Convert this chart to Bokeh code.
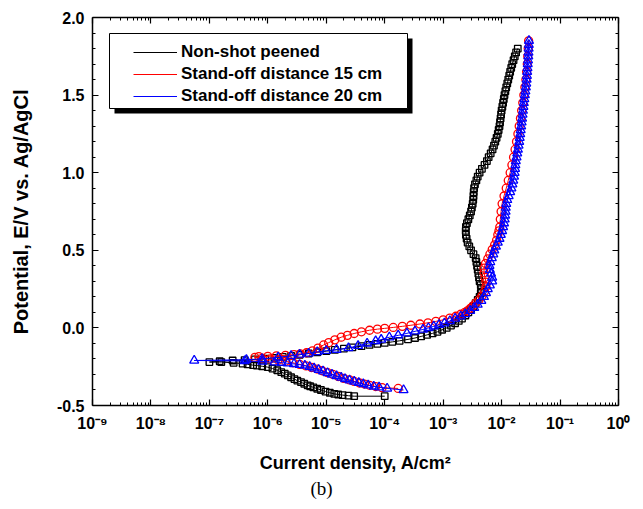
from bokeh.plotting import figure
from bokeh.models import (FixedTicker, NumeralTickFormatter, CustomJSTickFormatter, LinearAxis,
                          LogAxis, Legend, LegendItem, BoxAnnotation, ColumnDataSource, Range1d)
from bokeh.embed import file_html
from bokeh.resources import INLINE

# ---------------- data ----------------
x_ticks = [1e-9, 1e-8, 1e-7, 1e-6, 1e-5, 1e-4, 1e-3, 1e-2, 1e-1, 1e0]
x_tick_labels = ["10\u207b\u2079", "10\u207b\u2078", "10\u207b\u2077", "10\u207b\u2076",
                 "10\u207b\u2075", "10\u207b\u2074", "10\u207b\u00b3", "10\u207b\u00b2",
                 "10\u207b\u00b9", "10\u2070"]
y_ticks = [-0.5, 0.0, 0.5, 1.0, 1.5, 2.0]

series_names = ["Non-shot peened", "Stand-off distance 15 cm", "Stand-off distance 20 cm"]

# Non-shot peened (current density A/cm2, potential V)
np_i = [1.0e-4, 3.0e-5, 2.4e-5, 1.9e-5, 1.6e-5, 1.37e-5, 1.15e-5, 9.7e-6, 8.1e-6, 7.0e-6,
        6.0e-6, 5.3e-6, 4.8e-6, 4.2e-6, 3.7e-6, 3.2e-6, 2.85e-6, 2.5e-6, 2.2e-6, 1.95e-6,
        1.7e-6, 1.45e-6, 1.2e-6, 1.0e-6, 8.0e-7, 6.5e-7, 5.6e-7, 4.5e-7, 3.7e-7, 2.6e-7,
        1.6e-7, 1.0e-7,
        1.5e-7, 2.5e-7, 4.0e-7, 6.0e-7, 9.0e-7, 1.3e-6, 1.8e-6, 2.5e-6, 3.5e-6, 5.0e-6,
        7.0e-6, 1.0e-5, 1.4e-5, 2.0e-5, 2.8e-5, 4.0e-5, 5.5e-5, 7.5e-5, 1.0e-4, 1.35e-4,
        1.8e-4, 2.5e-4, 3.3e-4, 4.2e-4, 5.3e-4, 6.6e-4, 8.0e-4, 9.6e-4, 1.15e-3, 1.36e-3,
        1.6e-3, 1.85e-3, 2.1e-3, 2.4e-3, 2.7e-3, 3.0e-3, 3.3e-3, 3.6e-3, 3.9e-3, 4.2e-3,
        4.4e-3,
        4.5e-3, 4.4e-3, 4.2e-3, 4.1e-3, 4.0e-3, 3.9e-3, 3.8e-3, 3.7e-3, 3.6e-3, 3.3e-3,
        3.0e-3, 2.8e-3, 2.62e-3, 2.52e-3, 2.45e-3, 2.43e-3, 2.45e-3, 2.55e-3, 2.7e-3, 2.85e-3,
        3.0e-3, 3.1e-3, 3.2e-3, 3.27e-3, 3.3e-3, 3.33e-3, 3.38e-3, 3.5e-3, 3.7e-3, 3.9e-3,
        4.2e-3, 4.6e-3, 5.1e-3, 5.6e-3, 6.0e-3, 6.5e-3, 7.0e-3, 7.4e-3, 7.8e-3, 8.2e-3,
        8.6e-3, 8.9e-3, 9.2e-3, 9.4e-3, 9.6e-3, 9.8e-3, 1.0e-2, 1.03e-2, 1.06e-2, 1.09e-2,
        1.12e-2, 1.16e-2, 1.2e-2, 1.25e-2, 1.3e-2, 1.35e-2, 1.4e-2, 1.46e-2, 1.52e-2, 1.6e-2,
        1.68e-2, 1.77e-2, 1.89e-2]
np_E = [-0.44, -0.44, -0.437, -0.433, -0.429, -0.425, -0.418, -0.41, -0.40, -0.392,
        -0.383, -0.376, -0.37, -0.36, -0.35, -0.34, -0.33, -0.318, -0.306, -0.295,
        -0.285, -0.273, -0.262, -0.253, -0.247, -0.243, -0.24, -0.235, -0.23, -0.225,
        -0.22, -0.22,
        -0.215, -0.21, -0.207, -0.203, -0.198, -0.193, -0.187, -0.18, -0.173, -0.165,
        -0.157, -0.15, -0.142, -0.134, -0.126, -0.118, -0.11, -0.103, -0.097, -0.09,
        -0.083, -0.074, -0.065, -0.055, -0.045, -0.035, -0.025, -0.012, 0.0, 0.015,
        0.03, 0.045, 0.06, 0.08, 0.10, 0.12, 0.14, 0.16, 0.18, 0.20,
        0.225,
        0.25, 0.275, 0.30, 0.325, 0.35, 0.375, 0.40, 0.425, 0.45, 0.475,
        0.50, 0.525, 0.55, 0.575, 0.60, 0.625, 0.65, 0.675, 0.70, 0.725,
        0.75, 0.775, 0.80, 0.825, 0.85, 0.875, 0.90, 0.925, 0.95, 0.975,
        1.00, 1.025, 1.05, 1.075, 1.10, 1.125, 1.15, 1.175, 1.20, 1.225,
        1.25, 1.275, 1.30, 1.325, 1.35, 1.375, 1.40, 1.425, 1.45, 1.475,
        1.50, 1.525, 1.55, 1.575, 1.60, 1.625, 1.65, 1.675, 1.70, 1.725,
        1.75, 1.775, 1.80]

# Stand-off distance 15 cm
s15_i = [1.7e-4, 9.0e-5, 7.0e-5, 5.5e-5, 4.5e-5, 3.7e-5, 3.0e-5, 2.5e-5, 2.0e-5, 1.6e-5,
         1.3e-5, 1.05e-5, 8.5e-6, 7.0e-6, 5.6e-6, 4.5e-6, 3.5e-6, 2.7e-6, 2.0e-6, 1.5e-6,
         1.1e-6, 8.0e-7, 6.0e-7,
         7.0e-7, 1.0e-6, 1.4e-6, 2.0e-6, 2.8e-6, 3.6e-6, 4.6e-6, 5.8e-6, 7.2e-6, 9.0e-6,
         1.1e-5, 1.4e-5, 1.8e-5, 2.3e-5, 3.0e-5, 4.0e-5, 5.5e-5, 7.5e-5, 1.0e-4, 1.4e-4,
         2.0e-4, 2.8e-4, 4.0e-4, 5.5e-4, 7.5e-4, 1.0e-3, 1.3e-3, 1.65e-3, 2.0e-3, 2.35e-3,
         2.6e-3, 2.9e-3, 3.2e-3, 3.6e-3, 4.1e-3, 4.6e-3, 5.1e-3, 5.4e-3, 5.4e-3, 5.2e-3,
         5.0e-3, 5.0e-3, 5.3e-3, 5.8e-3, 6.3e-3, 6.9e-3, 7.6e-3, 8.2e-3, 8.6e-3, 9.0e-3,
         9.3e-3, 9.5e-3, 9.8e-3, 1.02e-2, 1.1e-2, 1.2e-2, 1.3e-2, 1.4e-2, 1.5e-2, 1.6e-2,
         1.7e-2, 1.8e-2, 1.9e-2, 2.0e-2, 2.1e-2, 2.2e-2, 2.3e-2, 2.4e-2, 2.5e-2, 2.6e-2,
         2.68e-2, 2.75e-2, 2.8e-2, 2.85e-2, 2.9e-2]
s15_E = [-0.39, -0.385, -0.378, -0.37, -0.362, -0.355, -0.345, -0.335, -0.325, -0.313,
         -0.30, -0.288, -0.276, -0.265, -0.255, -0.245, -0.235, -0.225, -0.215, -0.207,
         -0.20, -0.195, -0.19,
         -0.185, -0.183, -0.18, -0.177, -0.172, -0.167, -0.16, -0.148, -0.13, -0.11,
         -0.095, -0.077, -0.06, -0.048, -0.036, -0.025, -0.015, -0.008, -0.003, 0.003,
         0.01, 0.017, 0.025, 0.033, 0.042, 0.052, 0.063, 0.075, 0.088, 0.10,
         0.11, 0.125, 0.14, 0.16, 0.18, 0.205, 0.235, 0.265, 0.295, 0.325,
         0.355, 0.385, 0.415, 0.445, 0.475, 0.505, 0.535, 0.565, 0.60, 0.625,
         0.65, 0.70, 0.75, 0.80, 0.85, 0.90, 0.95, 1.00, 1.05, 1.10,
         1.15, 1.20, 1.25, 1.30, 1.35, 1.40, 1.45, 1.50, 1.55, 1.60,
         1.65, 1.70, 1.75, 1.80, 1.85]

# Stand-off distance 20 cm
s20_i = [2.1e-4, 1.1e-4, 8.0e-5, 6.5e-5, 5.2e-5, 4.3e-5, 3.6e-5, 3.0e-5, 2.5e-5, 2.1e-5,
         1.8e-5, 1.5e-5, 1.25e-5, 1.05e-5, 8.8e-6, 7.4e-6, 6.2e-6, 5.2e-6, 4.3e-6, 3.5e-6,
         2.8e-6, 2.2e-6, 1.7e-6, 1.3e-6, 8.0e-7, 4.0e-7, 5.5e-8,
         4.3e-7, 8.0e-7, 1.5e-6, 2.5e-6, 3.5e-6, 5.0e-6, 7.0e-6, 1.0e-5, 1.5e-5, 2.4e-5,
         3.5e-5, 5.0e-5, 7.0e-5, 8.7e-5, 1.2e-4, 1.7e-4, 2.4e-4, 3.3e-4, 4.5e-4, 5.6e-4,
         6.9e-4, 8.5e-4, 1.05e-3, 1.3e-3, 1.6e-3, 2.0e-3, 2.4e-3, 2.9e-3, 3.4e-3, 3.9e-3,
         4.5e-3, 5.0e-3, 5.4e-3, 5.8e-3, 6.3e-3, 6.9e-3, 6.9e-3, 6.6e-3, 6.3e-3, 6.2e-3,
         6.4e-3, 6.8e-3, 7.2e-3, 7.5e-3, 8.0e-3, 8.6e-3, 9.2e-3, 9.7e-3, 1.02e-2, 1.06e-2,
         1.1e-2, 1.13e-2, 1.15e-2, 1.17e-2, 1.18e-2, 1.2e-2, 1.25e-2, 1.32e-2, 1.4e-2, 1.47e-2,
         1.53e-2, 1.58e-2, 1.63e-2, 1.67e-2, 1.7e-2, 1.72e-2, 1.75e-2, 1.8e-2, 1.85e-2, 1.9e-2,
         1.95e-2, 2.0e-2, 2.04e-2, 2.08e-2, 2.12e-2, 2.16e-2, 2.2e-2, 2.24e-2, 2.28e-2, 2.32e-2,
         2.36e-2, 2.4e-2, 2.45e-2, 2.5e-2, 2.55e-2, 2.6e-2, 2.64e-2, 2.68e-2, 2.71e-2, 2.74e-2,
         2.77e-2, 2.8e-2, 2.83e-2, 2.86e-2, 2.88e-2, 2.9e-2, 2.92e-2, 2.94e-2]
s20_E = [-0.40, -0.39, -0.383, -0.377, -0.37, -0.362, -0.354, -0.346, -0.338, -0.33,
         -0.32, -0.31, -0.30, -0.29, -0.28, -0.27, -0.26, -0.25, -0.243, -0.237,
         -0.232, -0.228, -0.224, -0.221, -0.217, -0.213, -0.21,
         -0.205, -0.20, -0.19, -0.18, -0.172, -0.165, -0.155, -0.147, -0.14, -0.13,
         -0.115, -0.10, -0.085, -0.075, -0.06, -0.048, -0.035, -0.022, -0.01, 0.0,
         0.01, 0.02, 0.03, 0.045, 0.06, 0.075, 0.09, 0.11, 0.13, 0.15,
         0.175, 0.20, 0.225, 0.25, 0.275, 0.30, 0.325, 0.35, 0.375, 0.40,
         0.425, 0.45, 0.475, 0.50, 0.525, 0.55, 0.575, 0.60, 0.625, 0.65,
         0.675, 0.70, 0.725, 0.75, 0.775, 0.80, 0.825, 0.85, 0.875, 0.90,
         0.925, 0.95, 0.975, 1.00, 1.025, 1.05, 1.075, 1.10, 1.125, 1.15,
         1.175, 1.20, 1.225, 1.25, 1.275, 1.30, 1.325, 1.35, 1.375, 1.40,
         1.425, 1.45, 1.475, 1.50, 1.525, 1.55, 1.575, 1.60, 1.625, 1.65,
         1.675, 1.70, 1.725, 1.75, 1.775, 1.80, 1.825, 1.85]

# ---------------- figure ----------------
FONT = "Liberation Sans"

p = figure(width=640, height=505, x_axis_type="log",
           x_range=Range1d(1e-9, 1.0), y_range=Range1d(-0.5, 2.0),
           output_backend="svg", toolbar_location=None,
           min_border_left=92, min_border_right=22, min_border_top=17, min_border_bottom=100,
           title="(b)", title_location="below")
p.xgrid.visible = False
p.ygrid.visible = False
p.outline_line_color = None
p.background_fill_color = "white"
p.border_fill_color = "white"

p.title.text_font = "Liberation Serif"
p.title.text_font_style = "normal"
p.title.text_font_size = "19px"
p.title.text_color = "black"
p.title.align = "left"
p.title.offset = 218
p.title.standoff = 0

x_minor = [t * k for t in x_ticks[:-1] for k in range(2, 10)]
y_minor = [round(y_ticks[0] + 0.1 * k, 1) for k in range(26)]
y_minor = [v for v in y_minor if v not in y_ticks]
xticker = FixedTicker(ticks=x_ticks, minor_ticks=x_minor)
yticker = FixedTicker(ticks=y_ticks, minor_ticks=y_minor)
empty_fmt = CustomJSTickFormatter(code="return '';")
xfmt = CustomJSTickFormatter(args=dict(tick_vals=x_ticks, tick_text=x_tick_labels), code="""
    for (let k = 0; k < tick_vals.length; k++) {
        if (Math.abs(Math.log10(tick_vals[k]) - Math.log10(tick)) < 1e-6) { return tick_text[k]; }
    }
    return '';
""")


def style_axis(ax):
    ax.axis_line_color = "black"
    ax.axis_line_width = 1.5
    ax.major_tick_in = 6
    ax.major_tick_out = 0
    ax.minor_tick_in = 3
    ax.minor_tick_out = 0
    ax.major_tick_line_color = "black"
    ax.minor_tick_line_color = "black"
    ax.major_tick_line_width = 1.2
    ax.minor_tick_line_width = 1


xa = p.xaxis[0]
xa.ticker = xticker
xa.formatter = xfmt
xa.major_label_text_font = FONT
xa.major_label_text_font_style = "bold"
xa.major_label_text_font_size = "16px"
xa.major_label_text_color = "black"
xa.major_label_standoff = 9
xa.axis_label = "Current density, A/cm\u00b2"
xa.axis_label_text_font = FONT
xa.axis_label_text_font_style = "bold"
xa.axis_label_text_font_size = "18px"
xa.axis_label_text_color = "black"
xa.axis_label_standoff = 18
style_axis(xa)

ya = p.yaxis[0]
ya.ticker = yticker
ya.formatter = NumeralTickFormatter(format="0.0")
ya.major_label_text_font = FONT
ya.major_label_text_font_style = "bold"
ya.major_label_text_font_size = "16px"
ya.major_label_text_color = "black"
ya.major_label_standoff = 8
ya.axis_label = "Potential, E/V vs. Ag/AgCl"
ya.axis_label_text_font = FONT
ya.axis_label_text_font_style = "bold"
ya.axis_label_text_font_size = "20px"
ya.axis_label_text_color = "black"
ya.axis_label_standoff = 22
style_axis(ya)

top_ax = LogAxis(ticker=xticker, formatter=empty_fmt, major_label_standoff=0,
                 major_label_text_font_size="0px")
style_axis(top_ax)
p.add_layout(top_ax, "above")
right_ax = LinearAxis(ticker=yticker, formatter=empty_fmt, major_label_standoff=0,
                      major_label_text_font_size="0px")
style_axis(right_ax)
p.add_layout(right_ax, "right")

# series
colors = ["black", "red", "blue"]
markers = ["square", "circle", "triangle"]
sizes = [6.5, 8, 9]
data = [(np_i, np_E), (s15_i, s15_E), (s20_i, s20_E)]
legend_items = []
for (xi, ye), c, m, s, name in zip(data, colors, markers, sizes, series_names):
    src = ColumnDataSource(dict(x=xi, y=ye))
    ln = p.line("x", "y", source=src, line_color=c, line_width=1)
    p.scatter("x", "y", source=src, marker=m, size=s, line_color=c, line_width=1.3,
              fill_alpha=0)
    dummy = p.scatter("x", "y", source=ColumnDataSource(dict(x=[], y=[])), marker=m,
                      size=s, line_color=c, line_width=1, fill_color="white")
    legend_items.append(LegendItem(label=name, renderers=[ln, dummy]))

# legend frame with drop shadow (screen units, relative to the plot frame)
p.add_layout(BoxAnnotation(left=22, right=320, top=367, bottom=292,
                           left_units="screen", right_units="screen",
                           top_units="screen", bottom_units="screen",
                           fill_color="black", fill_alpha=1, line_alpha=0))
p.add_layout(BoxAnnotation(left=17, right=315, top=372, bottom=297,
                           left_units="screen", right_units="screen",
                           top_units="screen", bottom_units="screen",
                           fill_color="white", fill_alpha=1, line_color="black",
                           line_width=1, line_alpha=1))

legend = Legend(items=legend_items, location=(41, 299), padding=0, margin=0, spacing=2,
                border_line_alpha=0, background_fill_alpha=0,
                label_text_font=FONT, label_text_font_style="bold",
                label_text_font_size="17px", label_text_color="black",
                glyph_width=44, glyph_height=20, label_height=20, label_standoff=4)
p.add_layout(legend)

open("out.html", "w").write(file_html(p, INLINE))
